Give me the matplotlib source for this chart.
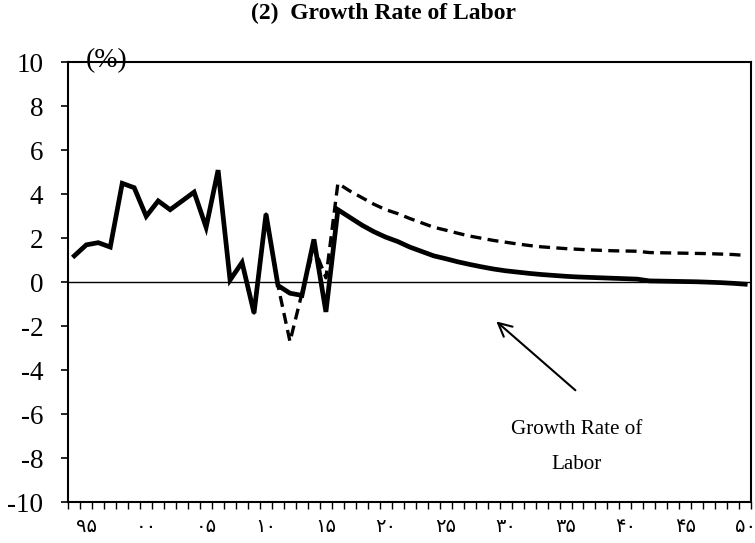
import matplotlib
matplotlib.use("Agg")
import matplotlib.pyplot as plt
import numpy as np

plt.rcParams['font.family'] = ['Liberation Serif', 'DejaVu Sans']
plt.rcParams['axes.unicode_minus'] = False

# years on the category axis
years = list(range(1994, 2051))

# growth rate of labor (%) 1994-2016, then projection to 2050
labor_solid = [1.2, 1.7, 1.8, 1.6, 4.5, 4.3, 3.0, 3.7, 3.3, 3.7, 4.1, 2.5, 5.1,
               0.1, 0.9, -1.4, 3.1, -0.15, -0.5, -0.6, 1.95, -1.35,
               3.3, 2.95, 2.6, 2.3, 2.05, 1.85, 1.6, 1.4, 1.2, 1.07,
               0.93, 0.81, 0.7, 0.6, 0.52, 0.46, 0.4, 0.35, 0.31, 0.27,
               0.24, 0.22, 0.2, 0.18, 0.16, 0.14, 0.06, 0.05, 0.04, 0.03,
               0.02, 0.0, -0.02, -0.05, -0.09]

# alternative series (dashed)
labor_dashed = [1.2, 1.7, 1.8, 1.6, 4.5, 4.3, 3.0, 3.7, 3.3, 3.7, 4.1, 2.5, 5.1,
                0.1, 0.9, -1.4, 3.1, -0.15, -2.7, -0.5, 1.6, 0.2,
                4.5, 4.15, 3.85, 3.55, 3.3, 3.12, 2.9, 2.7, 2.5, 2.37,
                2.23, 2.1, 2.0, 1.9, 1.82, 1.74, 1.67, 1.61, 1.57, 1.53,
                1.5, 1.47, 1.45, 1.43, 1.42, 1.41, 1.35, 1.34, 1.33, 1.32,
                1.31, 1.3, 1.28, 1.26, 1.22]

label_years = [1995, 2000, 2005, 2010, 2015, 2020, 2025, 2030, 2035, 2040, 2045, 2050]
label_text = ['۹۵', '۰۰', '۰۵', '۱۰', '۱۵', '۲۰', '۲۵', '۳۰', '۳۵', '۴۰', '۴۵', '۵۰']

fig = plt.figure(figsize=(7.55, 5.43), dpi=100)
ax = fig.add_axes([0.0905, 0.0755, 0.9045, 0.8095])

ax.plot(years, labor_dashed, color='black', lw=2.4, linestyle=(0, (3.3, 1.9)))
ax.plot(years, labor_solid, color='black', lw=3.4, solid_joinstyle='miter')
ax.axhline(0, color='black', lw=1.0)

ax.set_xlim(1993.5, 2050.5)
ax.set_ylim(-10, 10)
ax.set_yticks(np.arange(-10, 11, 2))
ax.tick_params(axis='y', labelsize=19.5, length=5, width=1.2, direction='out', pad=13)

ax.set_xticks(label_years)
ax.set_xticklabels(label_text, fontsize=14)
ax.tick_params(axis='x', which='major', length=0, pad=12)
ax.set_xticks(np.arange(1993.5, 2051, 1), minor=True)
ax.tick_params(axis='x', which='minor', length=5, width=1.0, direction='out')

for s in ax.spines.values():
    s.set_linewidth(1.5)
    s.set_color('black')

ax.text(0.026, 1.004, '(%)', transform=ax.transAxes, fontsize=20, va='center', ha='left')

fig.text(0.508, 0.976, '(2)  Growth Rate of Labor', fontsize=17, fontweight='bold',
         ha='center', va='center')

ax.annotate('', xy=(2029.05, -1.7), xytext=(2036.0, -5.0),
            arrowprops=dict(arrowstyle='->', color='black', lw=1.5, mutation_scale=24))
ax.text(2035.9, -7.5, 'Growth Rate of\nLabor', fontsize=15.2, ha='center', va='center',
        linespacing=2.15)

fig.savefig('out.png', dpi=100)
